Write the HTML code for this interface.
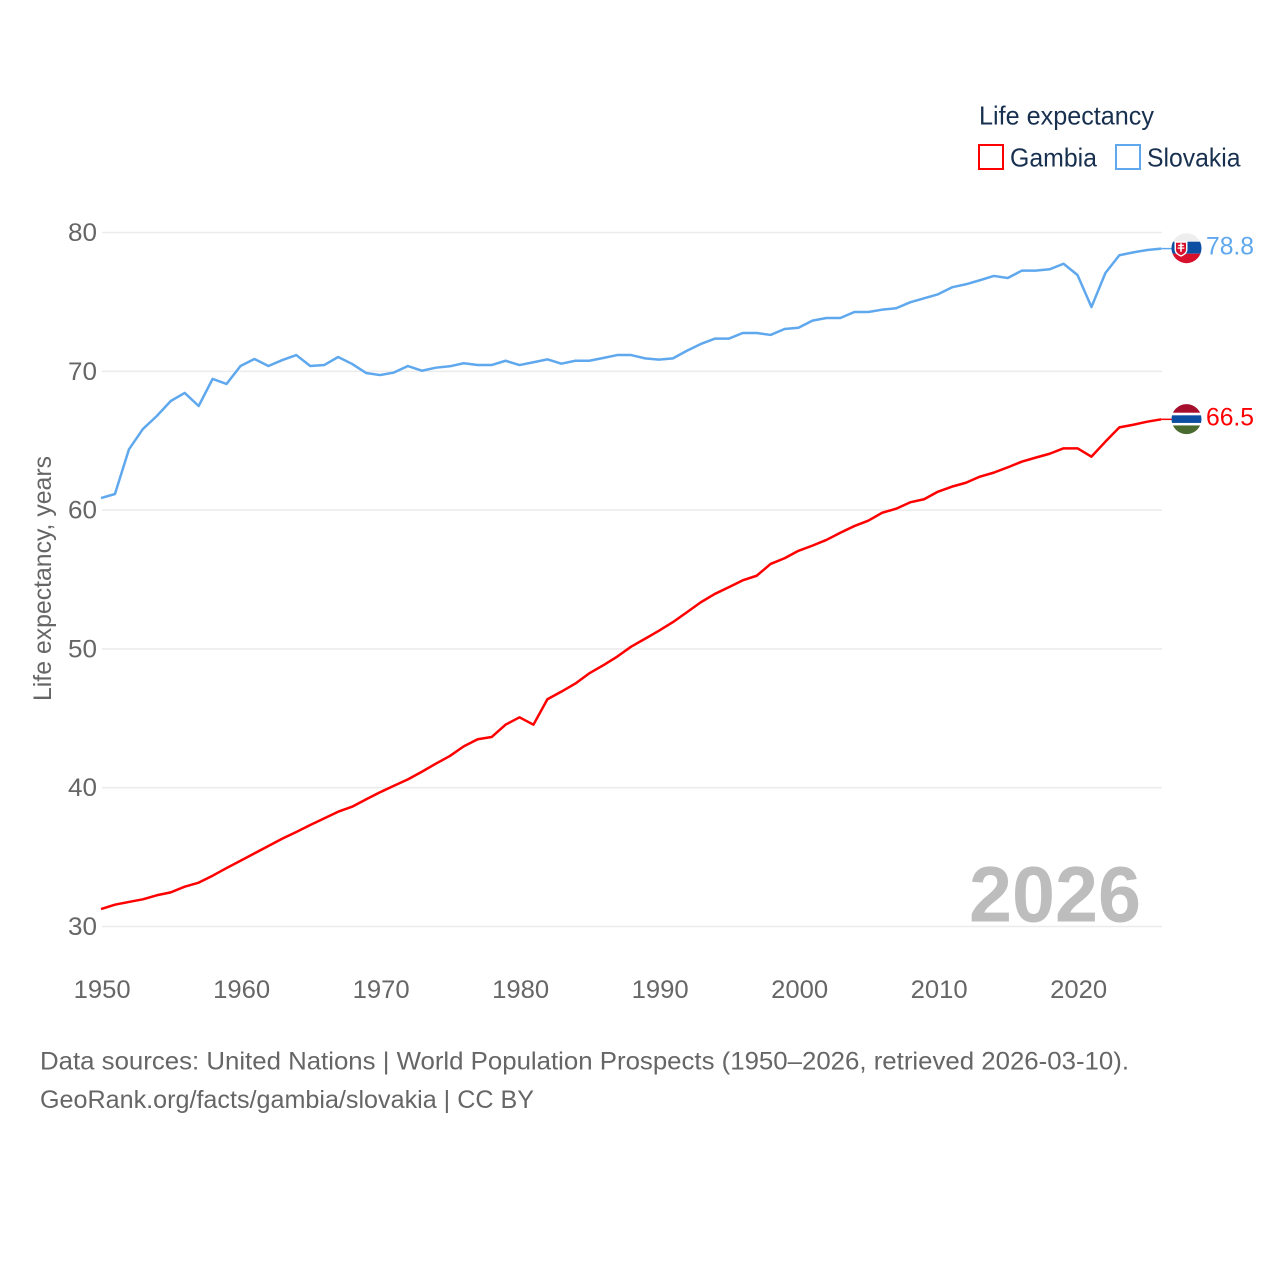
<!DOCTYPE html>
<html lang="en">
<head>
<meta charset="utf-8">
<title>Life expectancy: Gambia and Slovakia</title>
<style>
  html, body { margin: 0; padding: 0; background: #fff; }
  svg { display: block; font-family: "Liberation Sans", sans-serif; }
</style>
</head>
<body>
<svg id="chart" xmlns="http://www.w3.org/2000/svg" width="1280" height="1280" viewBox="0 0 1280 1280">
  <defs>
    <clipPath id="flag-clip-sk"><circle id="clip-sk" cx="1186.5" cy="248.5" r="15"/></clipPath>
    <clipPath id="flag-clip-gm"><circle id="clip-gm" cx="1186.5" cy="419.5" r="15"/></clipPath>
  </defs>
  <rect width="1280" height="1280" fill="#fff"/>
  <g id="grid"></g>
  <g id="y-ticks"></g>
  <g id="x-ticks"></g>
  <text transform="translate(51 701) rotate(-90)" font-size="25" fill="#666" textLength="245" lengthAdjust="spacingAndGlyphs">Life expectancy, years</text>
  <text x="969" y="921.5" font-size="79" font-weight="700" fill="#bdbdbd" textLength="172" lengthAdjust="spacingAndGlyphs">2026</text>
  <g id="series"></g>
  <g id="flags"></g>
  <g>
    <text x="979" y="124.5" font-size="26" fill="#18304f" textLength="175" lengthAdjust="spacingAndGlyphs">Life expectancy</text>
    <rect x="979" y="145" width="24" height="24" fill="none" stroke="#ff0000" stroke-width="2"/>
    <text x="1010" y="166.5" font-size="26" fill="#18304f" textLength="87" lengthAdjust="spacingAndGlyphs">Gambia</text>
    <rect x="1116" y="145" width="24" height="24" fill="none" stroke="#5fa8ee" stroke-width="2"/>
    <text x="1147" y="166.5" font-size="26" fill="#18304f" textLength="93.5" lengthAdjust="spacingAndGlyphs">Slovakia</text>
  </g>
  <text x="40" y="1069.5" font-size="25" fill="#666" textLength="1089" lengthAdjust="spacingAndGlyphs">Data sources: United Nations | World Population Prospects (1950–2026, retrieved 2026-03-10).</text>
  <text x="40" y="1108" font-size="25" fill="#666" textLength="494" lengthAdjust="spacingAndGlyphs">GeoRank.org/facts/gambia/slovakia | CC BY</text>
</svg>
<script>
const startYear = 1950;
const xTickLabels = [1950, 1960, 1970, 1980, 1990, 2000, 2010, 2020];
const yTickLabels = [30, 40, 50, 60, 70, 80];
const gambiaValues = [
  31.26, 31.57, 31.77, 31.96, 32.25, 32.46, 32.87, 33.16, 33.66, 34.21,
  34.74, 35.27, 35.80, 36.33, 36.81, 37.31, 37.79, 38.27, 38.63, 39.16,
  39.67, 40.14, 40.60, 41.15, 41.73, 42.28, 42.98, 43.49, 43.65, 44.54,
  45.07, 44.54, 46.37, 46.92, 47.50, 48.24, 48.82, 49.44, 50.16, 50.73,
  51.31, 51.93, 52.64, 53.36, 53.96, 54.44, 54.94, 55.27, 56.12, 56.53,
  57.07, 57.44, 57.85, 58.37, 58.85, 59.24, 59.81, 60.10, 60.56, 60.78,
  61.33, 61.69, 61.97, 62.41, 62.70, 63.08, 63.49, 63.78, 64.06, 64.45,
  64.45, 63.85, 64.93, 65.96, 66.15, 66.37, 66.54
];
const slovakiaValues = [
  60.87, 61.16, 64.37, 65.84, 66.78, 67.86, 68.44, 67.50, 69.45, 69.09,
  70.38, 70.89, 70.38, 70.81, 71.17, 70.38, 70.45, 71.03, 70.53, 69.88,
  69.73, 69.91, 70.38, 70.04, 70.26, 70.36, 70.58, 70.45, 70.45, 70.76,
  70.45, 70.65, 70.86, 70.55, 70.76, 70.76, 70.96, 71.17, 71.17, 70.93,
  70.84, 70.93, 71.48, 71.97, 72.35, 72.35, 72.76, 72.76, 72.62, 73.05,
  73.14, 73.65, 73.84, 73.84, 74.27, 74.27, 74.44, 74.54, 74.97, 75.26,
  75.55, 76.05, 76.27, 76.56, 76.87, 76.72, 77.25, 77.25, 77.35, 77.75,
  76.94, 74.63, 77.08, 78.36, 78.57, 78.74, 78.84
];

const SVG_NS = 'http://www.w3.org/2000/svg';
const xScale = year => 101 + (year - 1950) * 13.95;
const yScale = value => 232.5 + (80 - value) * 13.88;

function make(tag, parentId, attrs, text) {
  const el = document.createElementNS(SVG_NS, tag);
  Object.keys(attrs).forEach(k => el.setAttribute(k, attrs[k]));
  if (text !== undefined) el.textContent = text;
  document.getElementById(parentId).appendChild(el);
  return el;
}

yTickLabels.forEach(tick => {
  const line = make('line', 'grid', { x1: 102, x2: 1162, y1: yScale(tick), y2: yScale(tick), stroke: '#ececec', 'stroke-width': 1.6 });
  
  
  const label = make('text', 'y-ticks', { x: 97, y: yScale(tick) + 8.5, 'font-size': 25, fill: '#666', 'text-anchor': 'end', textLength: 29, lengthAdjust: 'spacingAndGlyphs' }, String(tick));
  
  
});

xTickLabels.forEach(tick => {
  const label = make('text', 'x-ticks', { x: xScale(tick) + 1.2, y: 998, 'font-size': 25, fill: '#666', 'text-anchor': 'middle', textLength: 57, lengthAdjust: 'spacingAndGlyphs' }, String(tick));
  
  
});

function linePoints(values) {
  return values.map((v, i) => xScale(startYear + i).toFixed(2) + ',' + yScale(v).toFixed(2)).join(' ');
}

const gambiaLine = make('polyline', 'series', { points: linePoints(gambiaValues), fill: 'none', stroke: '#ff0000', 'stroke-width': 2.5, 'stroke-linejoin': 'round' });



const slovakiaLine = make('polyline', 'series', { points: linePoints(slovakiaValues), fill: 'none', stroke: '#5fa8ee', 'stroke-width': 2.5, 'stroke-linejoin': 'round' });



/* End connectors, flags and value labels follow the last data value */
const lastYear = startYear + gambiaValues.length - 1;
const endX = xScale(lastYear);
const skValue = slovakiaValues[slovakiaValues.length - 1];
const gmValue = gambiaValues[gambiaValues.length - 1];
const skY = yScale(skValue);
const gmY = yScale(gmValue);

const skConnector = make('line', 'flags', { x1: endX, x2: 1172, y1: skY, y2: skY, stroke: '#5fa8ee', 'stroke-width': 1.5 });



const gmConnector = make('line', 'flags', { x1: endX, x2: 1172, y1: gmY, y2: gmY, stroke: '#ff0000', 'stroke-width': 1.5 });



const skCy = skY - 0.4;
const gmCy = gmY - 0.2;
document.getElementById('clip-sk').setAttribute('cy', skCy);
document.getElementById('clip-gm').setAttribute('cy', gmCy);

const skFlag = make('g', 'flags', { id: 'flag-sk', 'clip-path': 'url(#flag-clip-sk)' });


make('rect', 'flag-sk', { x: 1171, y: skCy - 16, width: 31, height: 9.5, fill: '#eeeeee' });
make('rect', 'flag-sk', { x: 1171, y: skCy - 6.5, width: 31, height: 12, fill: '#0b4ea2' });
make('rect', 'flag-sk', { x: 1171, y: skCy + 5.5, width: 31, height: 11, fill: '#d8102c' });
make('path', 'flag-sk', { d: `M1174.5 ${skCy - 7} h13 v8 q0 5 -6.5 7.5 q-6.5 -2.5 -6.5 -7.5 z`, fill: '#ffffff' });
make('path', 'flag-sk', { d: `M1176 ${skCy - 5.5} h10 v7 q0 3.5 -5 5.5 q-5 -2 -5 -5.5 z`, fill: '#d8102c' });
make('path', 'flag-sk', { d: `M1180.2 ${skCy - 5} h1.6 v1.6 h2 v1.3 h-2 v1.4 h2.6 v1.3 h-2.6 v3 h-1.6 v-3 h-2.6 v-1.3 h2.6 v-1.4 h-2 v-1.3 h2 z`, fill: '#ffffff' });

const gmFlag = make('g', 'flags', { id: 'flag-gm', 'clip-path': 'url(#flag-clip-gm)' });


make('rect', 'flag-gm', { x: 1171, y: gmCy - 16, width: 31, height: 9.7, fill: '#a50f2d' });
make('rect', 'flag-gm', { x: 1171, y: gmCy - 6.3, width: 31, height: 12.6, fill: '#ffffff' });
make('rect', 'flag-gm', { x: 1171, y: gmCy - 3.8, width: 31, height: 7.6, fill: '#0b4ea2' });
make('rect', 'flag-gm', { x: 1171, y: gmCy + 6.3, width: 31, height: 10, fill: '#4a6b2f' });

const skLabel = make('text', 'flags', { x: 1206, y: skY + 5.8, 'font-size': 25, fill: '#5fa8ee', textLength: 48, lengthAdjust: 'spacingAndGlyphs' }, skValue.toFixed(1));



const gmLabel = make('text', 'flags', { x: 1206, y: gmY + 6.4, 'font-size': 25, fill: '#ff0000', textLength: 48, lengthAdjust: 'spacingAndGlyphs' }, (Math.floor(gmValue * 10) / 10).toFixed(1));


</script>
</body>
</html>
